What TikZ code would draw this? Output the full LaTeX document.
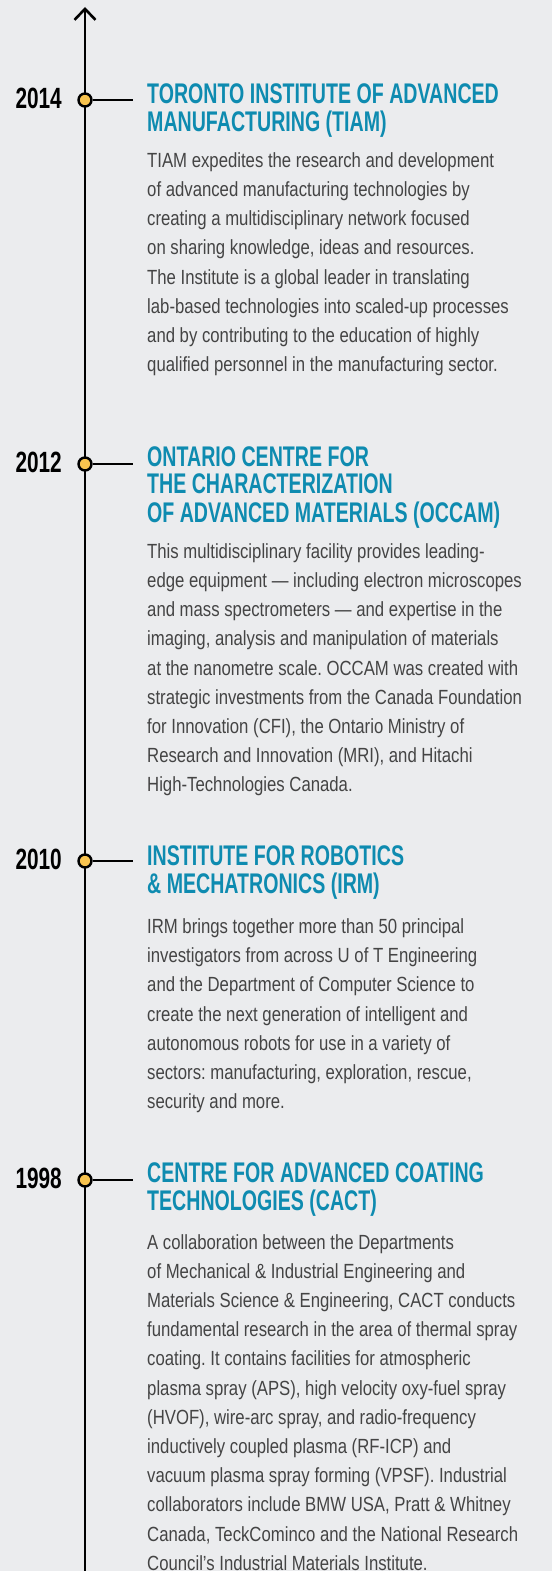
\documentclass[tikz,border=0pt]{standalone}
\usepackage{fontspec}
\usepackage{xcolor}
\usepackage{tikz}
\usetikzlibrary{arrows.meta}
\setmainfont{Liberation Sans}
\newfontfamily\bodyfont[FakeStretch=0.816, Ligatures=TeX]{Liberation Sans}
\newfontfamily\headfont[FakeStretch=0.69, Ligatures=TeX]{Liberation Sans}
\newfontfamily\yearfont[FakeStretch=0.71]{Liberation Sans}
\definecolor{paper}{HTML}{EBECEE}
\definecolor{teal}{HTML}{0E8BB0}
\definecolor{ink}{HTML}{444444}
\definecolor{gold}{HTML}{F9C44F}
\frenchspacing
% lines stacked from the first baseline down
\newcommand\linesbox[1]{\begin{tabular}[t]{@{}l@{}}#1\end{tabular}}

\begin{document}
\begin{tikzpicture}[
    x=1pt, y=-1pt,
    axis/.style={line width=2.8pt, black, -{Straight Barb[length=11pt, width=21pt, line width=2.6pt]}},
    dot/.style={circle, draw=black, line width=2.4pt, fill=gold, minimum size=13pt, inner sep=0pt},
    tick/.style={line width=2.2pt, black},
    year/.style={anchor=base east, inner sep=0pt, font=\yearfont\bfseries\fontsize{29.3}{30}\selectfont},
    title/.style={anchor=base west, inner sep=0pt, text=teal,
        font=\headfont\bfseries\fontsize{28.4}{26}\selectfont},
    body/.style={anchor=base west, inner sep=0pt, text=ink,
        font=\bodyfont\fontsize{20.5}{29.2}\selectfont}
]
\fill[paper] (0,0) rectangle (552,1571);
\useasboundingbox (0,0) rectangle (552,1571);

\coordinate (top) at (85,7);
\coordinate (bottom) at (85,1575);
\draw[axis] (bottom) -- (top);

% 2014
\node[dot] (d2014) at (85,100) {};
\coordinate (t2014) at (133,100);
\draw[tick] (d2014) -- (t2014);
\node[year] (y2014) at (62,108.5) {2014};
\node[title] (h2014) at (147,103) {\linesbox{TORONTO INSTITUTE OF ADVANCED\\MANUFACTURING (TIAM)}};
\node[body] (b2014) at (147,167.3) {\linesbox{%
  TIAM expedites the research and development\\
  of advanced manufacturing technologies by\\
  creating a multidisciplinary network focused\\
  on sharing knowledge, ideas and resources.\\
  The Institute is a global leader in translating\\
  lab-based technologies into scaled-up processes\\
  and by contributing to the education of highly\\
  qualified personnel in the manufacturing sector.}};

% 2012
\node[dot] (d2012) at (85,464) {};
\coordinate (t2012) at (133,464);
\draw[tick] (d2012) -- (t2012);
\node[year] (y2012) at (62,472.5) {2012};
\node[title] (h2012) at (147,466) {\linesbox{ONTARIO CENTRE FOR\\THE CHARACTERIZATION\\OF ADVANCED MATERIALS (OCCAM)}};
\node[body] (b2012) at (147,558.3) {\linesbox{%
  This multidisciplinary facility provides leading-\\
  edge equipment — including electron microscopes\\
  and mass spectrometers — and expertise in the\\
  imaging, analysis and manipulation of materials\\
  at the nanometre scale. OCCAM was created with\\
  strategic investments from the Canada Foundation\\
  for Innovation (CFI), the Ontario Ministry of\\
  Research and Innovation (MRI), and Hitachi\\
  High-Technologies Canada.}};

% 2010
\node[dot] (d2010) at (85,861) {};
\coordinate (t2010) at (133,861);
\draw[tick] (d2010) -- (t2010);
\node[year] (y2010) at (62,869.5) {2010};
\node[title] (h2010) at (147,865) {\linesbox{INSTITUTE FOR ROBOTICS\\\& MECHATRONICS (IRM)}};
\node[body] (b2010) at (147,933.5) {\linesbox{%
  IRM brings together more than 50 principal\\
  investigators from across U of T Engineering\\
  and the Department of Computer Science to\\
  create the next generation of intelligent and\\
  autonomous robots for use in a variety of\\
  sectors: manufacturing, exploration, rescue,\\
  security and more.}};

% 1998
\node[dot] (d1998) at (85,1180) {};
\coordinate (t1998) at (133,1180);
\draw[tick] (d1998) -- (t1998);
\node[year] (y1998) at (62,1188.5) {1998};
\node[title] (h1998) at (147,1182) {\linesbox{CENTRE FOR ADVANCED COATING\\TECHNOLOGIES (CACT)}};
\node[body] (b1998) at (147,1249) {\linesbox{%
  A collaboration between the Departments\\
  of Mechanical \& Industrial Engineering and\\
  Materials Science \& Engineering, CACT conducts\\
  fundamental research in the area of thermal spray\\
  coating. It contains facilities for atmospheric\\
  plasma spray (APS), high velocity oxy-fuel spray\\
  (HVOF), wire-arc spray, and radio-frequency\\
  inductively coupled plasma (RF-ICP) and\\
  vacuum plasma spray forming (VPSF). Industrial\\
  collaborators include BMW USA, Pratt \& Whitney\\
  Canada, TeckCominco and the National Research\\
  Council’s Industrial Materials Institute.}};
\end{tikzpicture}
\end{document}
